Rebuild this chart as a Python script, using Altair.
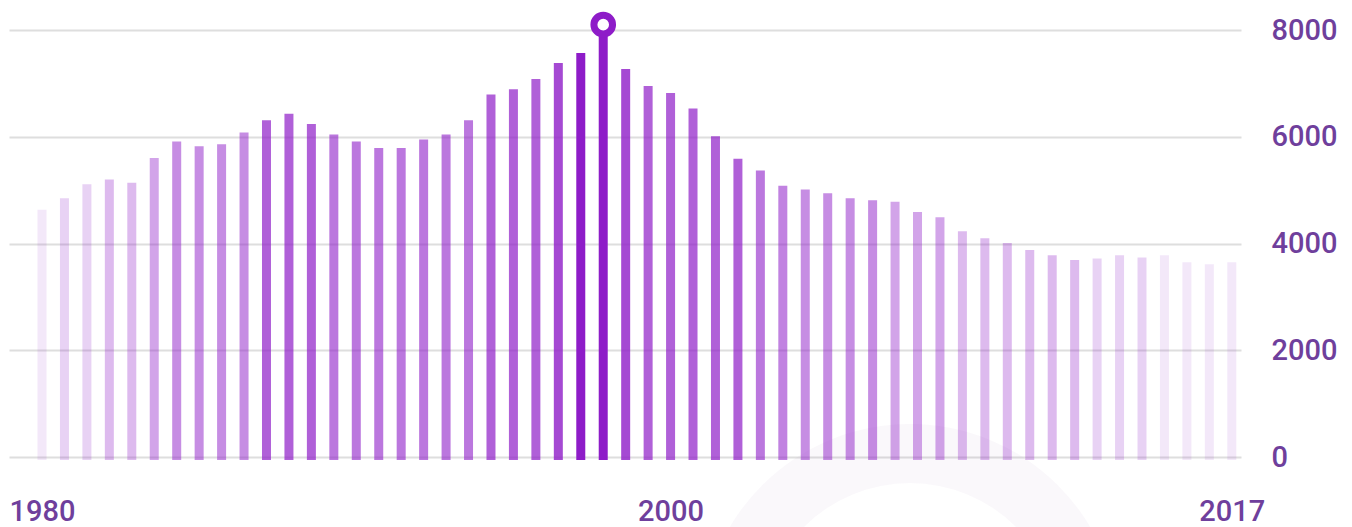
import altair as alt
import pandas as pd

# ---- data ----
bar_index = list(range(54))
values = [4630, 4850, 5110, 5200, 5140, 5600, 5910, 5820, 5860, 6080,
          6310, 6430, 6240, 6040, 5910, 5790, 5790, 5950, 6040, 6310,
          6790, 6890, 7080, 7380, 7570, 8100, 7270, 6950, 6820, 6530,
          6010, 5590, 5370, 5080, 5010, 4940, 4850, 4810, 4780, 4590,
          4490, 4230, 4100, 4010, 3880, 3780, 3690, 3720, 3780, 3740,
          3780, 3650, 3610, 3650]
weights = [1, 2, 2, 3, 3, 4, 5, 5, 5, 5,
           7, 7, 7, 6, 6, 6, 6, 6, 6, 6,
           7, 7, 7, 8, 10, 10, 8, 7, 7, 7,
           7, 7, 6, 5.5, 5, 5, 5, 5, 4, 4,
           4, 3, 3, 3, 3, 3, 3, 2, 2, 2,
           1, 1, 1, 1]
tick_index = [0, 28, 53]
tick_labels = ["1980", "2000", "2017"]
y_ticks = [0, 2000, 4000, 6000, 8000]
highlight_index = 25

df = pd.DataFrame({"i": bar_index, "v": values, "w": weights})

BASE = "#8e1cc8"
TEXT = "#6f3f9c"
FONT = "Roboto"

label_expr = " : ".join(
    f"datum.value == {p} ? '{t}'" for p, t in zip(tick_index, tick_labels)
) + " : ''"

x_enc = alt.X(
    "i:Q",
    scale=alt.Scale(domain=[-1.47, 53.41], nice=False, zero=False, padding=0),
    axis=alt.Axis(
        values=tick_index, labelExpr=label_expr, title=None, grid=False,
        ticks=False, domain=False, labelFontSize=29, labelFont=FONT,
        labelFontWeight=500, labelColor=TEXT, labelPadding=40,
        labelAlign="center", labelFlush=False, labelOverlap=False,
    ),
)
y_enc = alt.Y(
    "v:Q",
    scale=alt.Scale(domain=[0, 8000], nice=False, padding=0),
    axis=alt.Axis(
        orient="right", values=y_ticks, title=None, ticks=False, domain=False,
        gridColor="#dedede", gridWidth=2, labelPadding=30, labelFontSize=29,
        labelFont=FONT, labelFontWeight=500, labelColor=TEXT,
        labelAlign="left", labelBaseline="middle", format="d",
    ),
)

ring = alt.Chart(alt.Data(values=[{"k": 1}])).mark_arc(
    radius=209, radius2=150, theta=0, theta2=6.2832, color="#6a2c9a", opacity=0.035
).encode(x=alt.value(901), y=alt.value(603))

bars = alt.Chart(df).mark_bar(width=9, color=BASE, y2Offset=3).encode(
    x=x_enc,
    y=y_enc,
    y2=alt.datum(0),
    opacity=alt.Opacity("w:Q", scale=alt.Scale(domain=[0, 10], range=[0, 1]), legend=None),
)

marker = alt.Chart(df).transform_filter(
    alt.datum.i == highlight_index
).mark_point(
    shape="circle", size=346, filled=True, fill="white", stroke=BASE,
    strokeWidth=7, opacity=1,
).encode(x="i:Q", y="v:Q")

chart = alt.layer(ring, bars, marker).properties(
    width=1232, height=427,
    autosize=alt.AutoSizeParams(type="none"),
    padding={"left": 1, "top": 22, "right": 103, "bottom": 70},
    background="white",
).configure_view(stroke=None)

chart.save("out.html", embed_options={"renderer": "svg", "actions": False})
